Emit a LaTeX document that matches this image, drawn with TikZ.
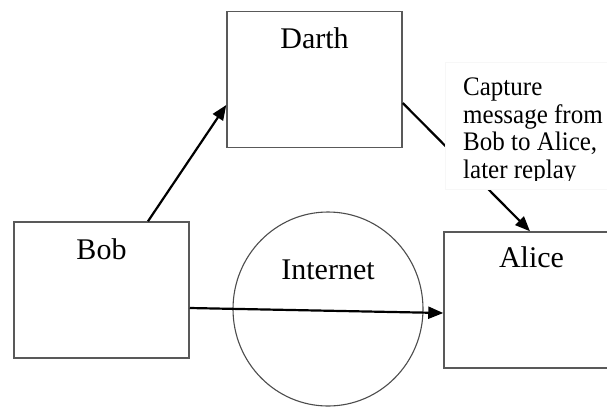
\documentclass[tikz,border=0pt]{standalone}
\usepackage{fontspec}
\setmainfont{Liberation Serif}
\usetikzlibrary{arrows.meta,shapes.geometric}

\tikzset{
  party/.style={draw=black!65, line width=1.5pt, minimum width=175pt, minimum height=136pt, inner sep=0pt},
  lbl/.style={font=\fontsize{30}{34}\selectfont, inner sep=0pt, anchor=base},
  net/.style={draw=black!70, line width=1.1pt, ellipse, minimum width=190pt, minimum height=194pt},
  flow/.style={draw=black, line width=2.2pt, -{Triangle[length=15pt,width=12pt]}},
  note/.style={font=\fontsize{25}{25.7}\selectfont, align=left, inner sep=0pt,
               anchor=base west, yscale=1.07, transform shape}
}

\begin{document}
\begin{tikzpicture}[x=1pt, y=1pt]
  \useasboundingbox (0,0) rectangle (607,-408);
  \clip (0,0) rectangle (607,-408);

  % the three parties
  \node[party] (darth) at (314.5,-79.5) {};
  \node[party] (bob)   at (101.5,-290)  {};
  \node[party] (alice) at (531.5,-300)  {};
  \node[lbl] (darthname) at ([yshift=-38pt]darth.north) {Darth};
  \node[lbl] (bobname)   at ([yshift=-38pt]bob.north)   {Bob};
  \node[lbl] (alicename) at ([yshift=-36pt]alice.north) {Alice};

  % the network in between
  \node[net] (internet) at (328,-309) {};
  \node[lbl] (netname) at (328,-279) {Internet};

  % message flows
  \draw[flow] ([xshift=46.5pt]bob.north) -- ([yshift=-25.5pt]darth.west);
  \draw[flow] ([yshift=-18pt]bob.east) -- ([yshift=-13pt]alice.west);
  \draw[flow] ([yshift=-23.5pt]darth.east) -- ([xshift=-1.5pt]alice.north);

  % annotation box laid over the replay path
  \node[fill=white, draw=black!3, line width=0.6pt, anchor=north west,
        minimum width=180pt, minimum height=127pt, inner sep=0pt] (notebox) at (445,-62) {};
  \begin{scope}
    \clip (445,-62) rectangle (607,-180);
    % anchored on the baseline of the last line
    \node[note] (notetext) at (463,-178)
      {Capture\\message from\\Bob to Alice,\\later replay};
  \end{scope}
\end{tikzpicture}
\end{document}
